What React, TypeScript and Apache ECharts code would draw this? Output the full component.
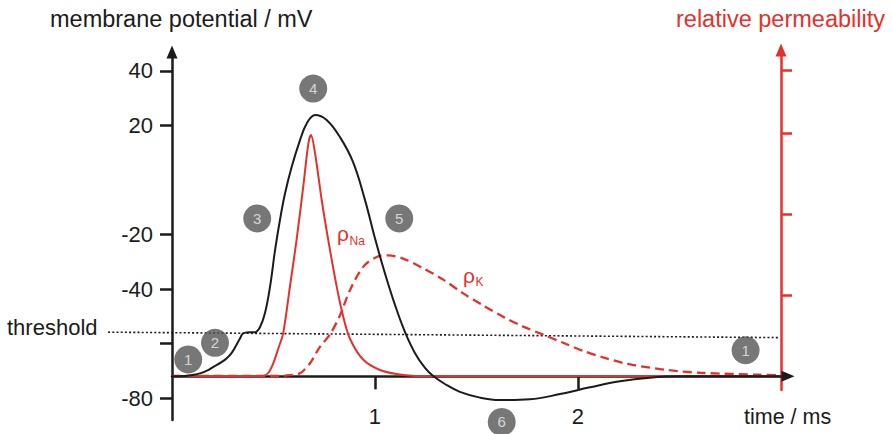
import React, { useEffect, useRef } from "react";
import * as echarts from "echarts";

// Axis marks
const timeTicks = [1, 2];
const potentialTicks = [-80, -60, -40, -20, 20, 40];
const potentialLabels = [-80, -40, -20, 20, 40];
const permeabilityTicks = [1, 2, 3, 3.77];

// Membrane potential (mV) against time (ms)
const potentialTime = [
  0, 0.06, 0.1, 0.138, 0.175, 0.204, 0.24, 0.27, 0.295, 0.315, 0.335, 0.35, 0.38, 0.409,
  0.434, 0.458, 0.483, 0.508, 0.532, 0.557, 0.59, 0.631, 0.664, 0.705, 0.762, 0.828, 0.892,
  0.951, 1.0, 1.049, 1.099, 1.148, 1.197, 1.247, 1.286, 1.345, 1.419, 1.518, 1.616, 1.764,
  1.912, 2.06, 2.208, 2.355, 2.503, 3.0,
];
const potentialValue = [
  -72, -71.9, -71.5, -70.9, -69.8, -68.5, -67.0, -65.4, -63.3, -60.8, -58.1, -56.3, -55.8, -55.8,
  -53.9, -48.9, -39.2, -25.7, -14.7, -5.0, 4.8, 14.6, 20.7, 23.8, 22.0, 15.7, 6.6,
  -7.3, -21.3, -34.1, -45.8, -55.7, -63.4, -68.9, -71.8, -74.8, -77.7, -79.8, -80.7, -80.4,
  -78.5, -76.0, -73.8, -72.5, -72, -72,
];

// Relative Na+ permeability
const naTime = [
  0, 0.45, 0.475, 0.499, 0.524, 0.548, 0.581, 0.614, 0.647, 0.672, 0.685, 0.705, 0.738,
  0.77, 0.812, 0.844, 0.877, 0.943, 1.025, 1.107, 1.222, 3.0,
];
const naValue = [
  0, 0, 0.04, 0.157, 0.34, 0.53, 1.1, 1.68, 2.34, 2.87, 2.975, 2.75, 2.17,
  1.68, 1.1, 0.73, 0.46, 0.2, 0.074, 0.025, 0, 0,
];

// Relative K+ permeability
const kTime = [
  0, 0.53, 0.581, 0.631, 0.68, 0.729, 0.778, 0.828, 0.877, 0.943, 1.009, 1.066, 1.139,
  1.238, 1.337, 1.435, 1.534, 1.633, 1.731, 1.83, 1.928, 2.027, 2.125, 2.224, 2.274,
  2.438, 2.602, 2.898, 3.0,
];
const kValue = [
  0, 0, 0.01, 0.033, 0.157, 0.36, 0.51, 0.75, 1.06, 1.35, 1.47, 1.49, 1.45,
  1.33, 1.19, 1.02, 0.87, 0.73, 0.61, 0.51, 0.41, 0.31, 0.23, 0.16, 0.135,
  0.075, 0.04, 0.015, 0.01,
];

// Threshold level (mV), drawn from the label to the permeability axis
const thresholdTime = [-0.315, 2.996];
const thresholdValue = [-55.8, -57.8];

// Numbered phases of the action potential
const phaseLabels = ["1", "2", "3", "4", "5", "6", "1"];
const phaseTime = [0.08, 0.212, 0.42, 0.696, 1.12, 1.625, 2.827];
const phaseValue = [-65.8, -59.7, -14.1, 33.5, -14.1, -88.7, -62.4];

const INK = "#1b1b1b";
const RED = "#e4312b";
const FONT = '"Liberation Sans", Arial, Helvetica, sans-serif';

const zip = (xs: number[], ys: number[]) => xs.map((x, i) => [x, ys[i]]);

export default function App() {
  const ref = useRef<HTMLDivElement>(null);

  useEffect(() => {
    if (!ref.current) return;
    const chart = echarts.init(ref.current, undefined, { renderer: "svg" });

    const arrowLine = (color: string) => ({
      show: true,
      onZero: false,
      symbol: ["none", "triangle"],
      symbolSize: [11, 13],
      lineStyle: { color, width: 2.5 },
    });

    const texts: any[] = [
      {
        type: "text",
        x: 50,
        y: 19,
        style: {
          text: "membrane potential / mV",
          fill: INK,
          font: `23.5px ${FONT}`,
          verticalAlign: "middle",
        },
      },
      {
        type: "text",
        x: 676,
        y: 19,
        style: {
          text: "relative permeability",
          fill: RED,
          font: `23.5px ${FONT}`,
          verticalAlign: "middle",
        },
      },
      {
        type: "text",
        x: 7,
        y: 327,
        style: { text: "threshold", fill: INK, font: `22px ${FONT}`, verticalAlign: "middle" },
      },
      {
        type: "text",
        x: 744,
        y: 417,
        style: { text: "time / ms", fill: INK, font: `21.5px ${FONT}`, verticalAlign: "middle" },
      },
      {
        type: "text",
        x: 337,
        y: 233.7,
        style: { text: "ρ", fill: RED, font: `21px ${FONT}`, verticalAlign: "middle" },
      },
      {
        type: "text",
        x: 349.5,
        y: 240.8,
        style: { text: "Na", fill: RED, font: `12px ${FONT}`, verticalAlign: "middle" },
      },
      {
        type: "text",
        x: 463,
        y: 275.7,
        style: { text: "ρ", fill: RED, font: `21px ${FONT}`, verticalAlign: "middle" },
      },
      {
        type: "text",
        x: 475.5,
        y: 282,
        style: { text: "K", fill: RED, font: `12px ${FONT}`, verticalAlign: "middle" },
      },
    ];

    const option: any = {
      animation: false,
      backgroundColor: "#ffffff",
      textStyle: { fontFamily: FONT },
      grid: [
        { left: 172, width: 616, top: 52, height: 368 },
        { left: 172, width: 616, top: 50, height: 340 },
      ],
      xAxis: [
        {
          type: "value",
          gridIndex: 0,
          min: 0,
          max: 3.036,
          position: "bottom",
          offset: -43.65,
          axisLine: arrowLine(INK),
          axisTick: {
            show: true,
            customValues: timeTicks,
            length: 13,
            lineStyle: { color: INK, width: 2.5 },
          },
          axisLabel: {
            customValues: timeTicks,
            margin: 29,
            fontSize: 22,
            color: INK,
            fontFamily: FONT,
          },
          splitLine: { show: false },
        },
        { type: "value", gridIndex: 1, min: 0, max: 3.036, show: false },
      ],
      yAxis: [
        {
          type: "value",
          gridIndex: 0,
          min: -88,
          max: 46.9,
          position: "left",
          axisLine: arrowLine(INK),
          axisTick: {
            show: true,
            customValues: potentialTicks,
            length: 12,
            lineStyle: { color: INK, width: 2.5 },
          },
          axisLabel: {
            customValues: potentialLabels,
            margin: 19,
            fontSize: 22,
            color: INK,
            fontFamily: FONT,
          },
          splitLine: { show: false },
        },
        {
          type: "value",
          gridIndex: 1,
          min: -0.173,
          max: 4.025,
          position: "right",
          offset: -7,
          axisLine: arrowLine(RED),
          axisTick: {
            show: true,
            customValues: permeabilityTicks,
            length: 11,
            lineStyle: { color: RED, width: 2.5 },
          },
          axisLabel: { show: false },
          splitLine: { show: false },
        },
      ],
      series: [
        {
          type: "line",
          name: "ρNa",
          xAxisIndex: 1,
          yAxisIndex: 1,
          data: zip(naTime, naValue),
          showSymbol: false,
          smooth: 0.3,
          lineStyle: { color: RED, width: 2 },
          z: 3,
        },
        {
          type: "line",
          name: "ρK",
          xAxisIndex: 1,
          yAxisIndex: 1,
          data: zip(kTime, kValue),
          showSymbol: false,
          smooth: 0.3,
          lineStyle: { color: RED, width: 2.3, type: [9, 5] },
          z: 3,
        },
        {
          type: "line",
          name: "membrane potential",
          xAxisIndex: 0,
          yAxisIndex: 0,
          data: zip(potentialTime, potentialValue),
          showSymbol: false,
          smooth: 0.4,
          lineStyle: { color: INK, width: 2 },
          z: 4,
        },
        {
          type: "scatter",
          name: "phase",
          xAxisIndex: 0,
          yAxisIndex: 0,
          clip: false,
          symbol: "circle",
          symbolSize: 28,
          itemStyle: { color: "#555555" },
          label: {
            show: true,
            position: "inside",
            formatter: (p: any) => p.name,
            color: "#eeeeee",
            fontSize: 15,
            fontFamily: FONT,
          },
          data: phaseTime.map((t, i) => ({ name: phaseLabels[i], value: [t, phaseValue[i]] })),
          z: 5,
        },
      ],
      graphic: texts,
    };

    chart.setOption(option);

    // The threshold line starts left of the potential axis, so it is placed
    // through the axis scales rather than clipped inside the grid.
    const finder = { xAxisIndex: 0, yAxisIndex: 0 };
    const start = chart.convertToPixel(finder, [thresholdTime[0], thresholdValue[0]]) as number[];
    const end = chart.convertToPixel(finder, [thresholdTime[1], thresholdValue[1]]) as number[];
    chart.setOption({
      graphic: [
        ...texts,
        {
          type: "line",
          silent: true,
          z: 1,
          shape: { x1: start[0], y1: start[1], x2: end[0], y2: end[1] },
          style: { stroke: INK, lineWidth: 1.6, lineDash: [2, 2.2] },
        },
      ],
    });

    return () => chart.dispose();
  }, []);

  return (
    <div
      ref={ref}
      style={{ position: "absolute", left: 0, top: 0, width: 893, height: 434, background: "#fff" }}
    />
  );
}
